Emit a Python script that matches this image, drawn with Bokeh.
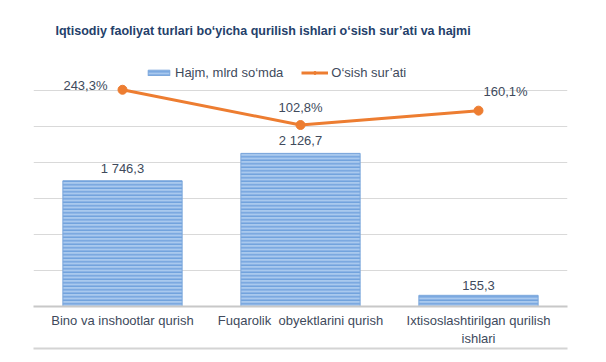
from bokeh.plotting import figure
from bokeh.models import (ColumnDataSource, Range1d, FactorRange, FixedTicker,
                          CategoricalAxis, Legend, LegendItem)
from bokeh.embed import file_html
from bokeh.resources import INLINE
from bokeh.core.properties import value

categories = ["Bino va inshootlar qurish",
              "Fuqarolik\u00a0 obyektlarini qurish",
              "Ixtisoslashtirilgan qurilish\nishlari"]
volume = [1746.3, 2126.7, 155.3]
growth = [243.3, 102.8, 160.1]
volume_labels = ["1 746,3", "2 126,7", "155,3"]
growth_labels = ["243,3%", "102,8%", "160,1%"]
grid_ticks = [500, 1000, 1500, 2000, 2500, 3000]

FONT = "Liberation Sans"
TXT = "#404a5c"

src = ColumnDataSource(dict(cat=categories, vol=volume, gr=growth,
                            vl=volume_labels, gl=growth_labels))

p = figure(width=604, height=360, x_range=FactorRange(*categories, range_padding=0),
           y_range=Range1d(0, 3500), output_backend="svg", toolbar_location=None,
           min_border_left=33, min_border_right=37, min_border_top=54,
           min_border_bottom=54)
p.extra_y_ranges = {"pct": Range1d(-621, 384)}
p.extra_x_ranges = {"dummy": FactorRange(factors=["_"])}

p.title.text = "Iqtisodiy faoliyat turlari bo\u2018yicha qurilish ishlari o\u2018sish sur\u2019ati va hajmi"
p.title.align = "left"
p.title.offset = 22
p.title.text_font = FONT
p.title.text_font_size = "12.5px"
p.title.text_font_style = "bold"
p.title.text_color = "#24406a"
p.title.standoff = 33

p.outline_line_color = None
p.xgrid.grid_line_color = None
p.ygrid.ticker = FixedTicker(ticks=grid_ticks)
p.ygrid.grid_line_color = "#d9d9d9"
p.ygrid.grid_line_width = 1
p.yaxis.visible = False

ax = p.xaxis[0]
ax.axis_line_color = "#c8c8c8"
ax.axis_line_width = 2
ax.major_tick_line_color = None
ax.minor_tick_line_color = None
ax.major_tick_out = 0
ax.major_tick_in = 0
ax.minor_tick_out = 0
ax.major_label_text_font = FONT
ax.major_label_text_font_size = "13px"
ax.major_label_text_color = TXT
ax.major_label_standoff = 6

ax2 = CategoricalAxis(x_range_name="dummy",
                      major_tick_line_color=None, minor_tick_line_color=None,
                      major_tick_out=0, major_tick_in=0, minor_tick_out=0,
                      axis_line_color="#d4d4d4", axis_line_width=2,
                      major_label_standoff=0, major_label_text_color=None,
                      major_label_text_font_size="1px")
p.add_layout(ax2, "below")

bars = p.vbar(x="cat", top="vol", width=0.67, source=src,
              fill_color="#a9c9ee", line_color="#7aa6db", line_width=1,
              hatch_pattern="horizontal_line", hatch_color="#6d9fdc",
              hatch_scale=3.5, hatch_weight=1.4)

ln = p.line(x="cat", y="gr", source=src, y_range_name="pct",
            line_color="#ed7d31", line_width=3)
mk = p.scatter(x="cat", y="gr", source=src, y_range_name="pct", size=9,
               fill_color="#ed7d31", line_color="#ed7d31")

# bar value labels
p.text(x="cat", y="vol", text="vl", source=src, text_align="center",
       text_baseline="bottom", y_offset=-5, text_font=value(FONT),
       text_font_size="13px", text_color=TXT)

# growth labels with individual offsets
xo = [-15, 0, 27]
yo = [-4, -10, -12]
al = ["right", "center", "center"]
for i in range(3):
    s = ColumnDataSource(dict(x=[categories[i]], y=[growth[i]], t=[growth_labels[i]]))
    p.text(x="x", y="y", text="t", source=s, y_range_name="pct",
           text_align=al[i], text_baseline="middle" if i == 0 else "bottom",
           x_offset=xo[i], y_offset=yo[i], text_font=value(FONT),
           text_font_size="13px", text_color=TXT)

legend = Legend(items=[LegendItem(label="Hajm, mlrd so\u2018mda", renderers=[bars]),
                       LegendItem(label="O\u2018sish sur\u2019ati", renderers=[ln, mk])],
                orientation="horizontal", location=(112, 226),
                background_fill_alpha=0, border_line_color=None,
                label_text_font=FONT, label_text_font_size="13px",
                label_text_color=TXT, glyph_width=27, glyph_height=7,
                spacing=18, margin=0, padding=2, label_standoff=3)
p.add_layout(legend)

open("out.html", "w").write(file_html(p, INLINE))
